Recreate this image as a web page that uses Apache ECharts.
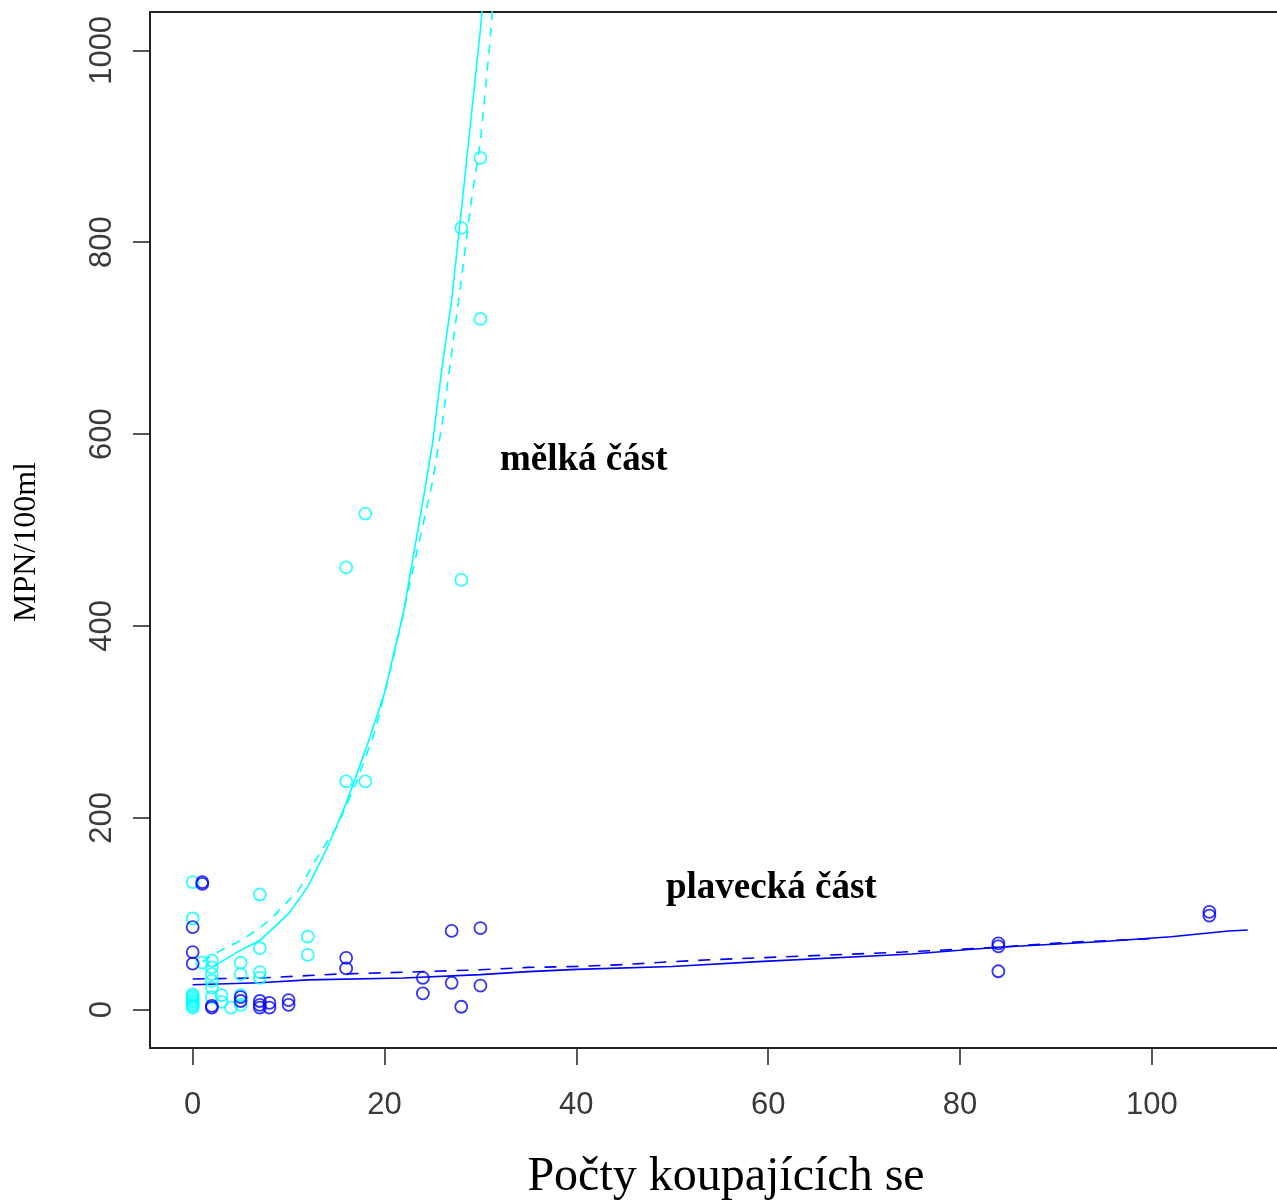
<!DOCTYPE html>
<html>
<head>
<meta charset="utf-8">
<script src="https://cdn.jsdelivr.net/npm/echarts@6/dist/echarts.min.js"></script>
<style>
html,body{margin:0;padding:0;background:#fff;}
#chart{width:1277px;height:1203px;}
</style>
</head>
<body>
<div id="chart"></div>
<script>
// Tick labels
const xTicks = [0, 20, 40, 60, 80, 100];
const yTicks = [0, 200, 400, 600, 800, 1000];

// mělká část (cyan) observed points
const shallowX = [0,0,0,0,0,0,0,0,0,0, 1, 2,2,2,2,2,2, 3,3, 4, 5,5,5,5, 7,7,7,7, 12,12, 16,16, 18,18, 28,28, 30,30];
const shallowY = [2,4,6,8,10,12,14,16,95,133, 49, 51,44,37,30,23,13, 8,15, 2, 49,37,15,5, 120,64,39,33, 76,57, 461,238, 517,238, 815,448, 888,720];

// plavecká část (blue) observed points
const swimX = [0,0,0, 1,1, 2,2, 5,5, 7,7,7, 8,8, 10,10, 16,16, 24,24, 27,27, 28, 30,30, 84,84,84, 106,106];
const swimY = [86,60,48, 131,133, 2,4, 9,13, 9,5,2, 7,2, 10,5, 54,43, 33,17, 82,28, 3, 85,25, 69,66,40, 102,98];

// fitted curves
const shallowFitX = [2,5,7,10,12,14,16,18,20,22,24,25,26,27,28,30,30.5];
const shallowFitY = [44,62,72,100,128,168,215,270,330,415,530,590,670,740,832,1022,1080];
const shallowFit2X = [1,3,5,7,8.5,11,13,15,17,19,21,22,23,24,25,26,27,28,29,30,31,31.5];
const shallowFit2Y = [50,62,72,85,98,124,159,190,235,290,370,415,460,505,550,610,685,760,840,905,1010,1075];

const swimFitX = [0,7,12,22,30,35,40,50,59,75,84,95,102,108,110];
const swimFitY = [26,28,31,33,36.5,39.6,42,45,50,58,65,71,76,82,83];
const swimFit2X = [0,7,15,22,30,35,40,45,50,54,59,74,84,91,100];
const swimFit2Y = [32,33,37,39,41.5,44,45,47,50,52,54,60,65,70,74];

const zip = (xs, ys) => xs.map((x, i) => [x, ys[i]]);

const CYAN = '#00FFFF';
const BLUE = '#0000FF';
const AX = '#222';
const tickFont = {fontFamily: 'Liberation Sans', fontSize: 31, color: '#3a3a3a'};

const chart = echarts.init(document.getElementById('chart'), null, {renderer: 'canvas'});
chart.setOption({
  animation: false,
  backgroundColor: '#fff',
  grid: {left: 150, top: 12, right: 0, bottom: 155, containLabel: false},
  xAxis: [{
    type: 'value', min: -4.45, max: 113.05, position: 'bottom',
    axisLine: {show: true, onZero: false, lineStyle: {color: AX, width: 2}},
    axisTick: {show: true, inside: false, length: 17, customValues: xTicks, lineStyle: {color: AX, width: 1.5}},
    axisLabel: {show: true, margin: 42, customValues: xTicks, formatter: v => String(v), ...tickFont},
    splitLine: {show: false}
  }, {
    type: 'value', min: -4.45, max: 113.05, position: 'top',
    axisLine: {show: true, onZero: false, lineStyle: {color: AX, width: 2}},
    axisTick: {show: false}, axisLabel: {show: false}, splitLine: {show: false}
  }],
  yAxis: [{
    type: 'value', min: -40, max: 1040, position: 'left',
    axisLine: {show: true, onZero: false, lineStyle: {color: AX, width: 2}},
    axisTick: {show: true, inside: false, length: 17, customValues: yTicks, lineStyle: {color: AX, width: 1.5}},
    axisLabel: {show: true, rotate: 90, margin: 32, customValues: yTicks, formatter: v => String(v), ...tickFont},
    splitLine: {show: false}
  }],
  series: [
    {type: 'line', data: zip(shallowFitX, shallowFitY), showSymbol: false, symbol: 'none',
     lineStyle: {color: CYAN, width: 1.6}, clip: true, z: 2},
    {type: 'line', data: zip(shallowFit2X, shallowFit2Y), showSymbol: false, symbol: 'none',
     lineStyle: {color: CYAN, width: 1.6, type: [9, 8]}, clip: true, z: 2},
    {type: 'line', data: zip(swimFitX, swimFitY), showSymbol: false, symbol: 'none',
     lineStyle: {color: BLUE, width: 1.6}, clip: true, z: 2},
    {type: 'line', data: zip(swimFit2X, swimFit2Y), showSymbol: false, symbol: 'none',
     lineStyle: {color: BLUE, width: 1.6, type: [12, 10]}, clip: true, z: 2},
    {type: 'scatter', data: zip(shallowX, shallowY), symbol: 'circle', symbolSize: 12,
     itemStyle: {color: 'transparent', borderColor: CYAN, borderWidth: 1.8}, clip: true, z: 3},
    {type: 'scatter', data: zip(swimX, swimY), symbol: 'circle', symbolSize: 12,
     itemStyle: {color: 'transparent', borderColor: BLUE, borderWidth: 1.8}, clip: true, z: 4}
  ],
  graphic: [
    {type: 'text', x: 500, y: 460, style: {text: 'mělká část', fill: '#000',
      font: 'bold 37px "Liberation Serif"', textAlign: 'left', textVerticalAlign: 'middle'}},
    {type: 'text', x: 666, y: 888, style: {text: 'plavecká část', fill: '#000',
      font: 'bold 37px "Liberation Serif"', textAlign: 'left', textVerticalAlign: 'middle'}},
    {type: 'text', x: 726, y: 1177, style: {text: 'Počty koupajících se', fill: '#000',
      font: '48px "Liberation Serif"', textAlign: 'center', textVerticalAlign: 'middle'}},
    {type: 'text', x: 27, y: 542, rotation: Math.PI / 2, style: {text: 'MPN/100ml', fill: '#000',
      font: '32px "Liberation Serif"', textAlign: 'center', textVerticalAlign: 'middle'}}
  ]
});
</script>
</body>
</html>
